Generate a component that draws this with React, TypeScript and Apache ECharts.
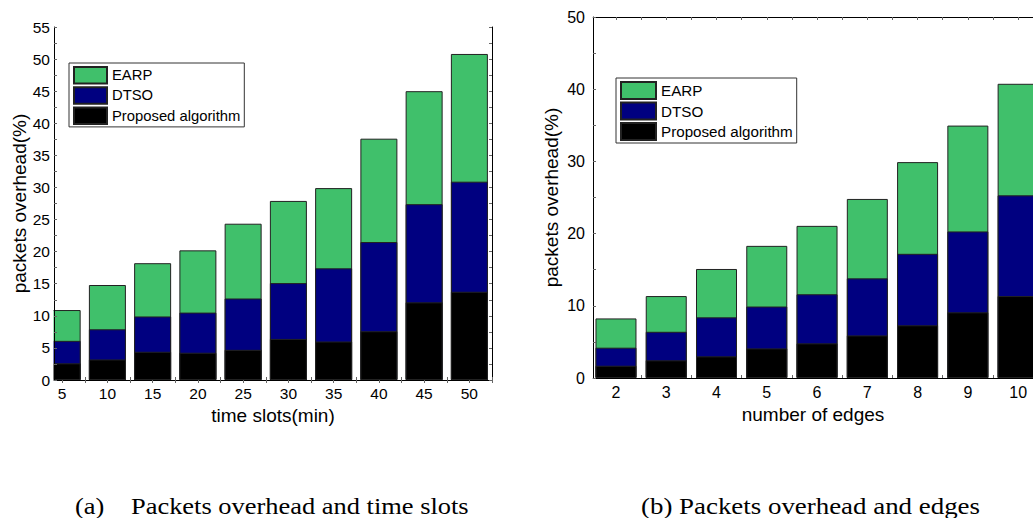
import React, { useEffect, useRef } from "react";
import * as echarts from "echarts";

// Left panel: packets overhead vs time slots
const leftCategories = [5, 10, 15, 20, 25, 30, 35, 40, 45, 50];
const leftEARP = [10.9, 14.8, 18.2, 20.2, 24.35, 27.9, 29.9, 37.6, 45.0, 50.8];
const leftDTSO = [6.1, 7.9, 9.9, 10.5, 12.7, 15.1, 17.4, 21.5, 27.4, 30.9];
const leftProposed = [2.6, 3.2, 4.4, 4.25, 4.7, 6.4, 6.0, 7.6, 12.1, 13.75];
const leftTickValues = [5, 7.5, 10, 12.5, 15, 17.5, 20, 22.5, 25, 27.5, 30, 32.5, 35, 37.5, 40, 42.5, 45, 47.5, 50, 52.5];

// Right panel: packets overhead vs number of edges
const rightCategories = [2, 3, 4, 5, 6, 7, 8, 9, 10];
const rightEARP = [8.25, 11.35, 15.1, 18.3, 21.07, 24.8, 29.9, 34.96, 40.75];
const rightDTSO = [4.2, 6.4, 8.4, 9.9, 11.6, 13.8, 17.2, 20.3, 25.3];
const rightProposed = [1.7, 2.45, 3.0, 4.1, 4.8, 5.9, 7.3, 9.1, 11.35];
const rightTickValues = [2, 2.5, 3, 3.5, 4, 4.5, 5, 5.5, 6, 6.5, 7, 7.5, 8, 8.5, 9, 9.5, 10];

const seriesNames = ["EARP", "DTSO", "Proposed algorithm"];
const seriesColors = ["#40c06b", "#000080", "#000000"];

const FONT = "Liberation Sans";

export default function App() {
  const ref = useRef<HTMLDivElement>(null);

  useEffect(() => {
    if (!ref.current) return;
    const chart = echarts.init(ref.current, null, { renderer: "svg" });

    const tickStyle = { show: true, inside: true, length: 3, lineStyle: { color: "#666", width: 1 } };
    const lineStyle = { show: true, lineStyle: { color: "#000", width: 1 } };

    const leftData = [leftEARP, leftDTSO, leftProposed];
    const rightData = [rightEARP, rightDTSO, rightProposed];

    const series: any[] = [];
    leftData.forEach((arr, i) => {
      series.push({
        type: "bar",
        name: seriesNames[i],
        xAxisIndex: 0,
        yAxisIndex: 0,
        barWidth: 37,
        barGap: "-100%",
        itemStyle: { color: seriesColors[i], borderColor: "#222", borderWidth: 1 },
        data: leftCategories.map((c, j) => [c, arr[j]]),
      });
    });
    rightData.forEach((arr, i) => {
      series.push({
        type: "bar",
        name: seriesNames[i],
        xAxisIndex: 2,
        yAxisIndex: 2,
        barWidth: 41,
        barGap: "-100%",
        itemStyle: { color: seriesColors[i], borderColor: "#222", borderWidth: 1 },
        data: rightCategories.map((c, j) => [c, arr[j]]),
      });
    });

    const option: any = {
      animation: false,
      backgroundColor: "#fff",
      textStyle: { fontFamily: FONT },
      grid: [
        { left: 54, top: 27, width: 438, height: 353 },
        { left: 593, top: 17, width: 440, height: 361 },
      ],
      legend: [
        {
          data: seriesNames,
          orient: "vertical",
          left: 69,
          top: 63,
          icon: "rect",
          itemWidth: 33,
          itemHeight: 16.5,
          itemGap: 1.7,
          padding: [3, 4, 2, 4],
          borderColor: "#333",
          borderWidth: 1,
          backgroundColor: "#fff",
          selectedMode: false,
          textStyle: { fontSize: 14.8, color: "#000", fontFamily: FONT, lineHeight: 16.5 },
        },
        {
          data: seriesNames,
          orient: "vertical",
          left: 616,
          top: 78,
          icon: "rect",
          itemWidth: 35,
          itemHeight: 17,
          itemGap: 1.5,
          padding: [3, 4, 2, 4],
          borderColor: "#333",
          borderWidth: 1,
          backgroundColor: "#fff",
          selectedMode: false,
          textStyle: { fontSize: 15.2, color: "#000", fontFamily: FONT, lineHeight: 17 },
        },
      ],
      xAxis: [
        {
          type: "value",
          gridIndex: 0,
          position: "bottom",
          min: 4.1,
          max: 52.5,
          axisLine: lineStyle,
          axisTick: { ...tickStyle, customValues: leftTickValues },
          axisLabel: { customValues: leftCategories, fontSize: 15.5, color: "#000", margin: 5, fontFamily: FONT },
          splitLine: { show: false },
          name: "time slots(min)",
          nameLocation: "middle",
          nameGap: 23,
          nameTextStyle: { fontSize: 19, color: "#000", fontFamily: FONT },
        },
        {
          type: "value",
          gridIndex: 0,
          position: "top",
          min: 4.1,
          max: 52.5,
          axisLine: lineStyle,
          axisTick: { ...tickStyle, customValues: leftTickValues },
          axisLabel: { show: false },
          splitLine: { show: false },
        },
        {
          type: "value",
          gridIndex: 1,
          position: "bottom",
          min: 1.543,
          max: 10.296,
          axisLine: lineStyle,
          axisTick: { ...tickStyle, customValues: rightTickValues },
          axisLabel: { customValues: rightCategories, fontSize: 16, color: "#000", margin: 6, fontFamily: FONT },
          splitLine: { show: false },
          name: "number of edges",
          nameLocation: "middle",
          nameGap: 24,
          nameTextStyle: { fontSize: 19, color: "#000", fontFamily: FONT },
        },
        {
          type: "value",
          gridIndex: 1,
          position: "top",
          min: 1.543,
          max: 10.296,
          axisLine: lineStyle,
          axisTick: { ...tickStyle, customValues: rightTickValues },
          axisLabel: { show: false },
          splitLine: { show: false },
        },
      ],
      yAxis: [
        {
          type: "value",
          gridIndex: 0,
          position: "left",
          z: 10,
          min: 0,
          max: 55,
          interval: 5,
          axisLine: lineStyle,
          axisTick: tickStyle,
          minorTick: { show: true, splitNumber: 2, length: 3, lineStyle: { color: "#666" } },
          axisLabel: { fontSize: 15.5, color: "#000", margin: 4, fontFamily: FONT },
          splitLine: { show: false },
          name: "packets overhead(%)",
          nameLocation: "middle",
          nameGap: 25,
          nameRotate: 90,
          nameTextStyle: { fontSize: 19, color: "#000", fontFamily: FONT },
        },
        {
          type: "value",
          gridIndex: 0,
          position: "right",
          min: 0,
          max: 55,
          interval: 5,
          axisLine: lineStyle,
          axisTick: tickStyle,
          minorTick: { show: true, splitNumber: 2, length: 3, lineStyle: { color: "#666" } },
          axisLabel: { show: false },
          splitLine: { show: false },
        },
        {
          type: "value",
          gridIndex: 1,
          position: "left",
          z: 10,
          min: 0,
          max: 50,
          interval: 10,
          axisLine: lineStyle,
          axisTick: tickStyle,
          minorTick: { show: true, splitNumber: 2, length: 3, lineStyle: { color: "#666" } },
          axisLabel: { fontSize: 16, color: "#000", margin: 8, fontFamily: FONT },
          splitLine: { show: false },
          name: "packets overhead(%)",
          nameLocation: "middle",
          nameGap: 32,
          nameRotate: 90,
          nameTextStyle: { fontSize: 19, color: "#000", fontFamily: FONT },
        },
      ],
      graphic: [
        {
          type: "rect",
          z: 5,
          silent: true,
          shape: { x: 0, y: 20, width: 53.5, height: 361 },
          style: { fill: "#fff" },
        },
        {
          type: "rect",
          z: 5,
          silent: true,
          shape: { x: 540, y: 10, width: 52.5, height: 369 },
          style: { fill: "#fff" },
        },
        {
          type: "text",
          x: 75,
          y: 506,
          scaleX: 1.15,
          style: { text: "(a)", fontSize: 23, fontFamily: "Liberation Serif", fill: "#000", textAlign: "left", textVerticalAlign: "middle" },
        },
        {
          type: "text",
          x: 131,
          y: 506,
          scaleX: 1.15,
          style: { text: "Packets overhead and time slots", fontSize: 23, fontFamily: "Liberation Serif", fill: "#000", textAlign: "left", textVerticalAlign: "middle" },
        },
        {
          type: "text",
          x: 641,
          y: 506,
          scaleX: 1.17,
          style: { text: "(b) Packets overhead and edges", fontSize: 23, fontFamily: "Liberation Serif", fill: "#000", textAlign: "left", textVerticalAlign: "middle" },
        },
      ],
      series,
    };

    chart.setOption(option);
    return () => chart.dispose();
  }, []);

  return (
    <div
      ref={ref}
      style={{ position: "absolute", left: 0, top: 0, width: 1033, height: 518, background: "#fff" }}
    />
  );
}
